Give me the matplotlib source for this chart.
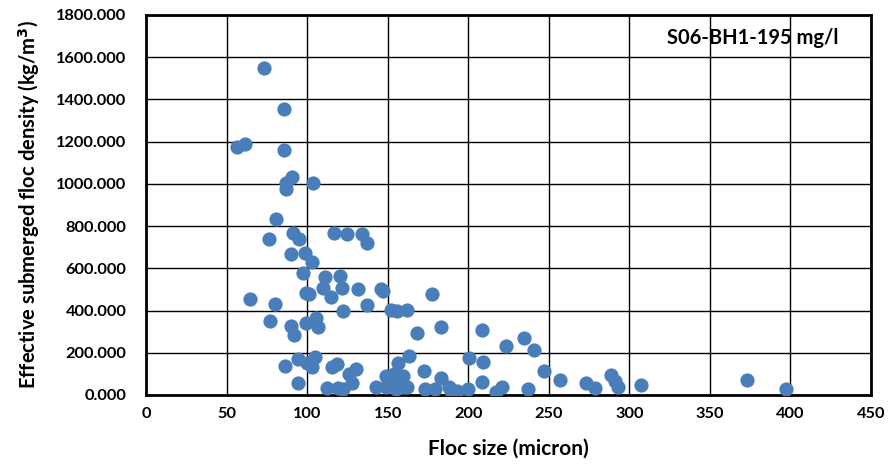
import matplotlib
matplotlib.use("Agg")
import matplotlib.pyplot as plt

# floc size (micron) and effective submerged floc density (kg/m3)
floc_size = [
    73.2, 85.8, 56.3, 61.6, 85.8, 90.6, 86.7, 86.7, 103.8, 80.7,
    76.5, 91.1, 94.8, 116.7, 124.8, 134.0, 137.4, 90.0, 98.7, 103.0,
    97.6, 111.0, 120.2, 110.0, 121.7, 131.4, 99.3, 101.0, 114.8, 64.6,
    80.0, 122.0, 145.9, 146.9, 177.3, 137.4, 152.0, 156.0, 161.8, 77.0,
    105.7, 89.8, 99.3, 107.0, 91.9, 168.0, 183.0, 208.4, 223.3, 234.4,
    240.7, 247.3, 94.4, 86.3, 104.9, 99.7, 103.0, 115.3, 118.8, 94.2,
    112.2, 119.0, 122.0, 125.8, 130.2, 128.0, 142.8, 149.0, 149.0, 154.0,
    156.6, 159.3, 155.6, 159.3, 155.2, 163.3, 172.6, 173.2, 179.4, 182.9,
    188.0, 189.3, 192.8, 199.7, 200.7, 209.4, 208.4, 217.0, 220.7, 237.3,
    257.0, 272.9, 278.8, 288.8, 290.9, 292.7, 307.0, 372.8, 397.3, 162.0,
]
density = [
    1549, 1353, 1176, 1189, 1160, 1034, 1006, 977, 1006, 832,
    738, 766, 738, 766, 763, 763, 718, 668, 674, 630,
    576, 561, 564, 508, 508, 503, 482, 477, 463, 455,
    430, 398, 503, 494, 478, 424, 403, 398, 403, 352,
    363, 327, 342, 324, 284, 292, 322, 306, 234, 270,
    211, 114, 169, 137, 178, 153, 131, 134, 147, 58,
    32, 33, 30, 99, 121, 58, 36, 36, 90, 99,
    153, 90, 55, 39, 27, 186, 115, 27, 27, 82,
    36, 17, 17, 30, 173, 155, 62, 13, 36, 30,
    71, 55, 32, 93, 65, 39, 49, 71, 27, 39,
]

x_ticks = list(range(0, 451, 50))
y_ticks = list(range(0, 1801, 200))

plt.rcParams['font.family'] = ['Lato', 'DejaVu Sans']

fig = plt.figure(figsize=(8.89, 4.68), dpi=100)
ax = fig.add_axes([0.1642, 0.156, 0.8156, 0.812])

ax.scatter(floc_size, density, s=105, color='#4a7ebb', zorder=3, linewidths=0)

ax.set_xlim(0, 450)
ax.set_ylim(0, 1800)
ax.set_xticks(x_ticks)
ax.set_yticks(y_ticks)
ax.set_yticklabels(['%.3f' % v for v in y_ticks])
ax.tick_params(length=0, labelsize=11.8)
ax.tick_params(axis='y', pad=14)
ax.tick_params(axis='x', pad=9)
for lab in ax.get_xticklabels() + ax.get_yticklabels():
    lab.set_fontweight('bold')

ax.grid(True, color='black', linewidth=1, zorder=0)
ax.set_axisbelow(True)
for sp in ax.spines.values():
    sp.set_linewidth(2)
    sp.set_color('black')

ax.set_xlabel('Floc size (micron)', fontsize=15, fontweight='bold', labelpad=12)
ax.set_ylabel('Effective submerged floc density (kg/m$\\mathbf{^3}$)', fontsize=14.5,
              fontweight='bold', labelpad=10)

ax.text(0.955, 0.94, 'S06-BH1-195 mg/l', transform=ax.transAxes, ha='right', va='center',
        fontsize=14.5, fontweight='bold')

fig.savefig('out.png', dpi=100)
